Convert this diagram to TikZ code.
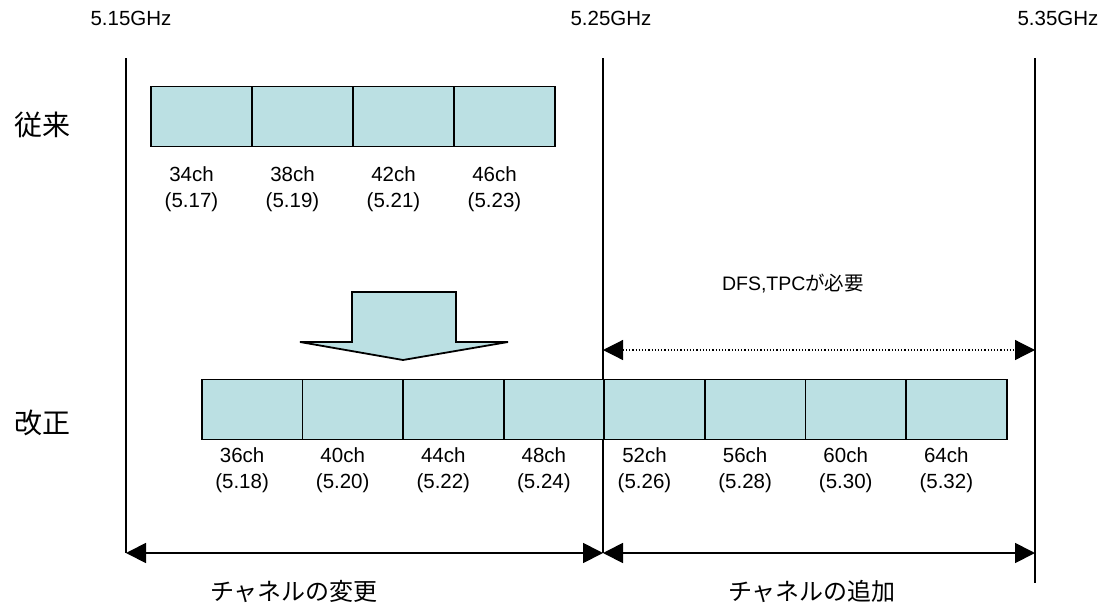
\documentclass[tikz,border=0pt]{standalone}
\usepackage{fontspec}
\setmainfont{Liberation Sans}
\newfontfamily\jpfont{Noto Sans CJK JP}
\usetikzlibrary{arrows.meta}
\definecolor{chfill}{RGB}{187,224,227}

\begin{document}
\begin{tikzpicture}[x=1pt,y=-1pt,
    chbox/.style={draw, fill=chfill, line width=1.8pt, minimum width=100.6pt, minimum height=60pt, inner sep=0pt},
    chlab/.style={align=center, inner sep=0pt, font=\fontsize{20.5}{25.5}\selectfont},
    freq/.style={inner sep=0pt, font=\fontsize{20.5}{23}\selectfont},
    bigjp/.style={inner sep=0pt, font=\fontsize{28}{30}\selectfont\jpfont},
    spanjp/.style={inner sep=0pt, font=\fontsize{24}{27}\selectfont\jpfont},
    span/.style={line width=1.8pt, {Triangle[length=20pt,width=20pt]}-{Triangle[length=20pt,width=20pt]}}]
    \useasboundingbox (0,0) rectangle (1104,606);
    % frequency borders
    \foreach \n/\x/\lo/\f in {a/126/553/5.15, b/603/553/5.25, c/1035/583/5.35} {
        \coordinate (\n-top) at (\x,58);
        \coordinate (\n-bot) at (\x,\lo);
        \coordinate (\n-low) at (\x,553);
        \draw [line width=1.8pt] (\n-top) -- (\n-bot);
    }
    \node [freq] (fa) at (131,18) {5.15GHz};
    \node [freq] (fb) at (611,18) {5.25GHz};
    \node [freq] (fc) at (1058,18) {5.35GHz};
    % old channels
    \node [bigjp] (old) at (43,125) {従来};
    \foreach \i/\c/\f in {1/34/5.17, 2/38/5.19, 3/42/5.21, 4/46/5.23} {
        \node [chbox] (t\i) at ({100.5+101*\i},116.5) {};
        \node [chlab] (tl\i) at ({90.5+101*\i},189) {\c ch\\(\f)};
    }
    % block arrow
    \draw [fill=chfill, line width=1.8pt] (352,292) -- (456,292) -- (456,342) -- (508,342)
        -- (403,360) -- (300,342) -- (352,342) -- cycle;
    % new channels
    \node [bigjp] (new) at (43,423) {改正};
    \foreach \i/\c/\f in {1/36/5.18, 2/40/5.20, 3/44/5.22, 4/48/5.24, 5/52/5.26, 6/56/5.28, 7/60/5.30, 8/64/5.32} {
        \node [chbox] (b\i) at ({151.5+100.6*\i},409.5) {};
        \node [chlab] (bl\i) at ({141.5+100.6*\i},470) {\c ch\\(\f)};
    }
    % DFS / TPC range
    \coordinate (b-dfs) at (603,350);
    \coordinate (c-dfs) at (1035,350);
    \draw [span, line width=1.2pt, dotted] (b-dfs) -- (c-dfs);
    \node [freq, font=\fontsize{19.5}{22}\selectfont] (dfs) at (793,283) {DFS,TPC{\jpfont が必要}};
    % bottom ranges
    \draw [span] (a-low) -- (b-low);
    \draw [span] (b-low) -- (c-low);
    \node [spanjp] (chg) at (294,591) {チャネルの変更};
    \node [spanjp] (add) at (812,591) {チャネルの追加};
\end{tikzpicture}
\end{document}
